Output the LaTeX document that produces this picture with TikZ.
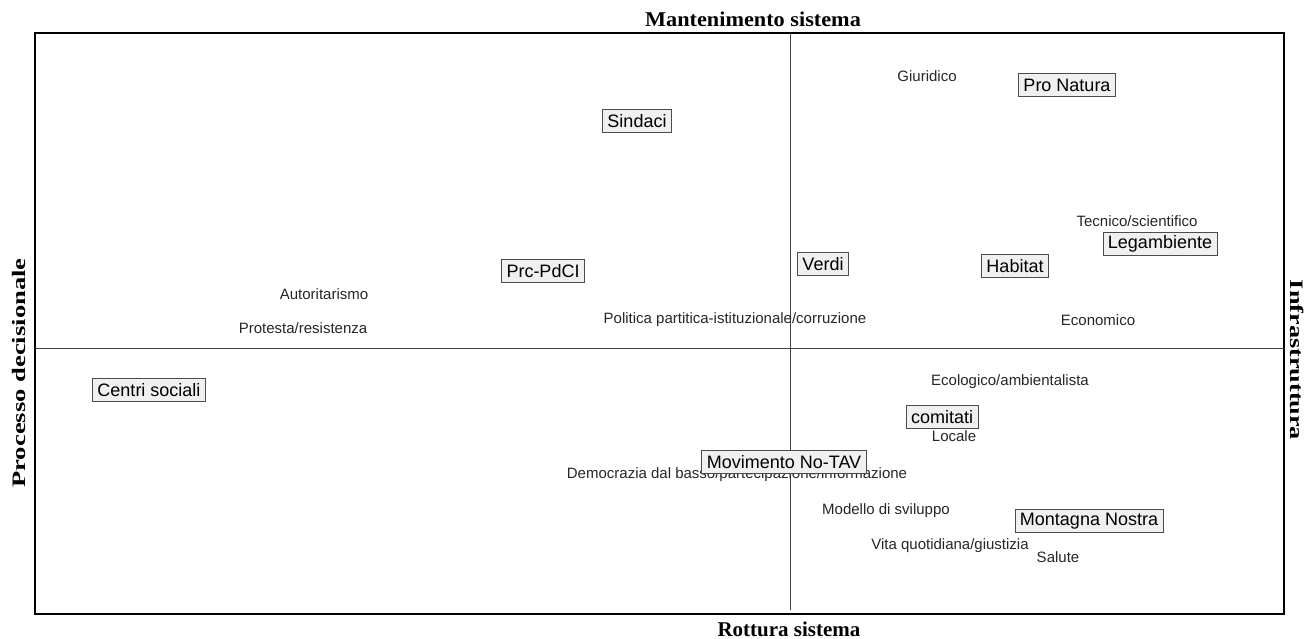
\documentclass[tikz,border=0pt]{standalone}
\usepackage{fontspec}
\setmainfont{Liberation Sans}
\newfontfamily\axisfont{Liberation Serif}
\begin{document}
\begin{tikzpicture}[x=1pt,y=-1pt,
  lbl/.style={inner sep=0pt,font=\fontsize{15}{17}\selectfont,text=black!85},
  actor/.style={draw=black!70,fill=black!6,line width=0.9pt,inner xsep=5pt,inner ysep=0pt,minimum height=23pt,font=\fontsize{18}{20}\selectfont},
  axtitle/.style={inner sep=0pt,font=\axisfont\bfseries\fontsize{21}{23}\selectfont},
  sidetitle/.style={inner sep=0pt,font=\axisfont\bfseries\fontsize{19}{21}\selectfont},
  axisline/.style={draw=black!75,line width=0.9pt}]
\useasboundingbox (0,0) rectangle (1306,639);
% frame and axes
\draw[line width=1.1pt] (35,33) rectangle (1284,614);
\coordinate (vt) at (790,33);
\coordinate (vb) at (790,610);
\coordinate (hl) at (35,348);
\coordinate (hr) at (1284,348);
\draw[axisline] (vt) -- (vb);
\draw[axisline] (hl) -- (hr);
% axis titles
\node[axtitle] (top) at (753,19) {\scalebox{1.06}[1]{Mantenimento sistema}};
\node[axtitle] (bot) at (789,629.5) {Rottura sistema};
\node[sidetitle,rotate=90] (left) at (19,373) {\scalebox{1.4}[1]{Processo decisionale}};
\node[sidetitle,rotate=-90] (right) at (1297,360) {\scalebox{1.38}[1]{Infrastruttura}};
% plain labels
\node[lbl] (giur) at (927,76) {Giuridico};
\node[lbl] (tecn) at (1137,221) {Tecnico/scientifico};
\node[lbl] (auto) at (324,294) {Autoritarismo};
\node[lbl] (prot) at (303,328) {Protesta/resistenza};
\node[lbl] (poli) at (735,320) {Politica partitica-istituzionale/corruzione};
\node[lbl] (econ) at (1098,320) {Economico};
\node[lbl] (ecol) at (1010,382) {Ecologico/ambientalista};
\node[lbl] (loca) at (954,436) {Locale};
\node[lbl] (demo) at (737,475) {Democrazia dal basso/partecipazione/informazione};
\node[lbl] (mode) at (886,511) {Modello di sviluppo};
\node[lbl] (vita) at (950,546) {Vita quotidiana/giustizia};
\node[lbl] (salu) at (1058,557) {Salute};
% actors
\node[actor] (sind) at (637,121) {Sindaci};
\node[actor] (pron) at (1067,85) {Pro Natura};
\node[actor] (prc) at (543,271) {Prc-PdCI};
\node[actor] (verd) at (823,264) {Verdi};
\node[actor] (habi) at (1015,266) {Habitat};
\node[actor] (lega) at (1160,244) {Legambiente};
\node[actor] (cent) at (149,390) {Centri sociali};
\node[actor] (comi) at (942,417) {comitati};
\node[actor] (movi) at (784,462) {Movimento No-TAV};
\node[actor] (mont) at (1089,521) {Montagna Nostra};
\end{tikzpicture}
\end{document}
